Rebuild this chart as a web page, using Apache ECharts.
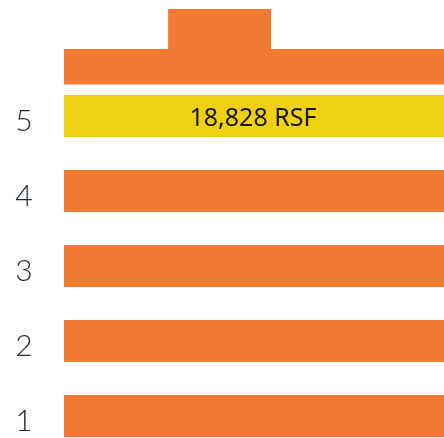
<!DOCTYPE html>
<html>
<head>
<meta charset="utf-8">
<style>html,body{margin:0;padding:0;background:#fff;}#c{width:444px;height:438px;}</style>
<script src="https://cdn.jsdelivr.net/npm/echarts@6/dist/echarts.min.js"></script>
</head>
<body>
<div id="c"></div>
<script>
// Floors of the building (stacking plan)
const floors = [1, 2, 3, 4, 5];
const floorNames = ['1', '2', '3', '4', '5'];
const floorStart = [0, 0, 0, 0, 0];
const floorEnd = [100, 100, 100, 100, 100];
const floorLabels = ['', '', '', '', '18,828 RSF'];
const highlightFloor = 5;
// Roof outline pieces in axis units
const roofStart = [0, 27.4];
const roofEnd = [100, 54.5];
const roofBottom = [5.427, 5.893];
const roofTop = [5.893, 6.427];

const ORANGE = '#F37A32';
const YELLOW = '#F0D012';
const FLOOR_HALF = 0.28;

const chart = echarts.init(document.getElementById('c'), null, {renderer: 'canvas'});

const floorData = floors.map((f, i) => [floorStart[i], floorEnd[i], f]);
const roofData = roofStart.map((s, i) => [s, roofEnd[i], roofBottom[i], roofTop[i]]);

chart.setOption({
  animation: false,
  grid: {left: 64, right: 0, top: 0, bottom: 0},
  xAxis: {type: 'value', min: 0, max: 100, show: false},
  yAxis: {type: 'value', min: 0.7067, max: 6.5467, show: false},
  series: [
    {
      type: 'custom',
      data: roofData,
      renderItem: (params, api) => {
        const p0 = api.coord([api.value(0), api.value(3)]);
        const p1 = api.coord([api.value(1), api.value(2)]);
        return {type: 'rect', shape: {x: p0[0], y: p0[1], width: p1[0] - p0[0], height: p1[1] - p0[1] + 0.5},
          style: {fill: ORANGE}};
      }
    },
    {
      type: 'custom',
      data: floorData,
      clip: false,
      renderItem: (params, api) => {
        const f = api.value(2);
        const p0 = api.coord([api.value(0), f + FLOOR_HALF]);
        const p1 = api.coord([api.value(1), f - FLOOR_HALF]);
        const mid = api.coord([api.value(0), f]);
        const label = floorLabels[params.dataIndex];
        return {
          type: 'group',
          children: [
            {
              type: 'rect',
              shape: {x: p0[0], y: p0[1], width: p1[0] - p0[0], height: p1[1] - p0[1]},
              style: {fill: f === highlightFloor ? YELLOW : ORANGE},
              textContent: {style: {text: label, fontFamily: 'Noto Sans', fontSize: 25, fill: '#1a1a1a'}},
              textConfig: {position: 'inside', offset: [-1, 3]}
            },
            {
              type: 'text',
              x: mid[0] - 40, y: mid[1] + 5,
              style: {text: floorNames[params.dataIndex], fontFamily: 'Lato', fontWeight: 300, fontSize: 30,
                fill: '#1c2b36', align: 'center', verticalAlign: 'middle'}
            }
          ]
        };
      }
    }
  ]
});
</script>
</body>
</html>
